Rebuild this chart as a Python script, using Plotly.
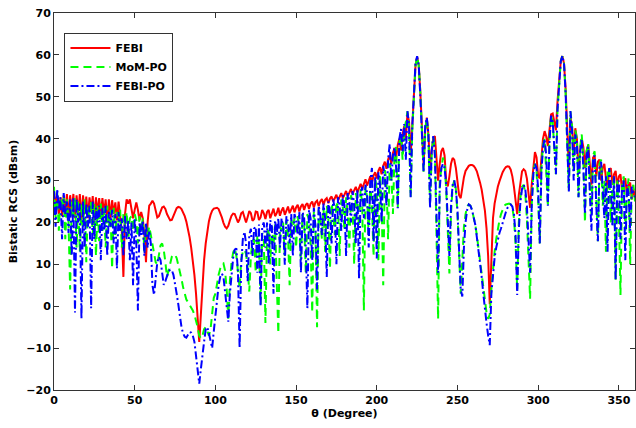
import plotly.graph_objects as go

# bistatic angle, 1 degree steps
theta = list(range(0, 361))

febi = [
    27.4, 24, 26.5, 22, 26, 21.5, 26.5, 22, 26.8, 21,
    26.5, 22.5, 26.8, 21, 26.5, 22, 26.8, 20.5, 26.5, 22,
    26.2, 21, 26, 22.5, 26.3, 20.5, 26, 22, 25.8, 21.5,
    25.8, 22, 25.5, 20, 25.5, 21, 25.3, 22, 24.8, 20.5,
    25, 22, 18, 7, 22, 25.5, 24.5, 25.5, 23, 21,
    23, 24.8, 23, 20.5, 22.5, 21, 17, 10.5, 20, 24,
    24.5, 25.2, 24.5, 22.5, 21.2, 21.5, 22.8, 23.6, 23.8, 23.2,
    22, 21, 20.5, 20.6, 21.5, 22.6, 23.4, 23.7, 23.6, 23.2,
    22.5, 21.5, 20.2, 18.5, 16.5, 14, 11, 7.5, 3, -3,
    -8.5, -2, 5, 11, 15, 18, 20.3, 21.8, 22.8, 23.3,
    23.4, 23.5, 23.2, 22.4, 21.2, 19.9, 19, 18.6, 19.2, 20.5,
    21.6, 22.1, 22, 21, 20, 20.8, 22.2, 22.5, 21, 20,
    21.3, 22.7, 22.2, 20.4, 20.8, 22.6, 22.5, 20.6, 21.2, 23,
    22.2, 20.8, 22.5, 23, 21, 22, 23.3, 21.5, 22.2, 23.5,
    21.6, 22.8, 23.6, 21.8, 23, 23.8, 22.2, 23.3, 24, 22.4,
    23.6, 24.2, 22.6, 23.8, 24.4, 23, 24.2, 24.6, 23.2, 24.5,
    25, 23.6, 24.8, 25.2, 23.9, 25, 25.6, 24.2, 25.4, 25.8,
    24.6, 25.7, 26.2, 25, 26, 26.6, 25.3, 26.4, 27, 25.8,
    26.8, 27.5, 26.2, 27.2, 28, 26.8, 27.8, 28.5, 27.2, 28.4,
    29.2, 28, 29.5, 30.3, 28.8, 30.2, 31, 29.5, 31.2, 32,
    30.5, 32.3, 33.2, 31.5, 33.5, 34.5, 32.8, 35, 36, 34,
    36.5, 37.8, 35.5, 38.5, 40, 37.2, 41, 43, 40, 46,
    44, 36, 44, 52, 57.5, 59.5, 57.5, 51, 41, 34,
    42, 45, 41, 33, 37, 40, 40.6, 36, 30, 34,
    37, 37.8, 36, 30, 28.6, 31, 34, 35.4, 35, 33,
    29.5, 26.5, 25.8, 28.5, 30.8, 32.3, 33.1, 33.5, 33.7, 33.7,
    33.5, 33, 32.2, 31, 29.5, 27.8, 25.6, 22.8, 18.6, 12,
    0.5, 13, 21, 24.5, 26.8, 28.5, 29.8, 31, 32, 32.7,
    33.2, 33.4, 33.3, 32.6, 31, 28.5, 25, 22, 26.5, 30,
    32.2, 32.7, 32.3, 30.5, 27, 23.5, 29, 34, 36.8, 35.5,
    31, 30.5, 36, 40, 41.8, 40.5, 38.2, 42.5, 45.8, 46,
    44, 42, 49, 55, 58.5, 59.7, 58, 52, 42, 33,
    45, 43, 36, 42.5, 40, 32, 37, 40, 38, 33,
    37, 38.5, 34, 29, 35.5, 36, 31, 34.5, 35, 30,
    33, 34, 30.5, 28, 32.5, 33, 29, 31.5, 32.3, 28.5,
    31, 31.5, 27.5, 30, 30.5, 26.5, 29, 29.5, 25.5, 28, 26,
]

mom_po = [
    28.5, 21, 27, 18, 26, 23, 26.5, 16, 25.5, 20,
    4, 25, 21.5, 26, 14, 25, 13, 24.5, 19, 25.5,
    10.5, 24, 20, 25, 17, 24.5, 12, 24, 15.5, 24.5,
    18, 23.5, 14, 24, 19, 23, 9, 23.5, 17, 22.5,
    20, 23, 14, 22, 19, 22.5, 16, 21, 21.5, 18,
    22, 20.5, 15, 21.5, 18, 21, 13, 19.5, 17, 19,
    17, 14.5, 12, 10.5, 10, 12, 14.5, 15, 13.5, 10.5,
    7, 8.5, 10.5, 11.8, 12.3, 12.3, 11.5, 10, 8.3, 6.5,
    4.5, 2.8, 1.6, 1, 0.4, -0.2, -1, -2, -3.3, -5,
    -7, -7.7, -7, -5.5, -5, -6, -7, -5.5, -2, 2,
    3, 5.5, 7.5, 9, 9.9, 10.2, 8.5, 4, -3, 6,
    10.5, 12.8, 13.8, 12, 8, 4.3, 11, 13, 13.5, 12.5,
    9, 3.5, 12, 15.5, 16, 8, 17, 15, 0.5, 17.5,
    16, -4, 17, 18.5, 10, 19, 14.5, 19.5, 6, -6.5,
    19, 18, 20, 12, 20.5, 17, 5, 20.5, 19, 21,
    14, 21.5, 18, 11, 22, 20, 8, 22, 20.5, 15,
    -1.5, 22.5, 19, -5, 23, 21, 16, 23.5, 13, 24,
    21, 9, 24.5, 22, 17, 25, 23, 12, 25.5, 23.5,
    18, 26, 22, 14, 26.5, 24.5, 10, 27, 25, 19,
    28, 24, -1, 28.5, 26, 17, 29.5, 24, 12, 30.5,
    28, 11, 31.5, 25, 5, 32.5, 30, 16, 34, 31.5,
    22, 36.5, 38, 23.5, 39, 41, 35, 42, 44, 46.5,
    42, 26, 42, 52, 57.5, 59.5, 57.5, 51, 40, 32,
    42, 45, 40, 24, 36, 40.5, 37, 18, -3, 30,
    33, 35.5, 34, 28, 18, 7.8, 22, 28.5, 30, 28,
    22, 10, 3, 11, 19, 22, 23.8, 24.3, 24, 23,
    21.5, 19.5, 17, 14, 11, 7.5, 4, 1, -1.5, -3,
    -2, 4, 9, 13, 16, 18.6, 20.5, 22, 23.2, 24,
    24.3, 24.5, 24.5, 24.3, 23.5, 21, 15, 4, 20, 26,
    28.5, 29, 27, 21, 10, 1.8, 24, 32, 34, 32,
    25, 15, 33, 38.5, 40, 33, 23.8, 40, 45.5, 44,
    37, 31.5, 47, 54, 58.5, 59.7, 58, 51, 39, 27.4,
    46.5, 43, 32, 42, 40, 26, 38, 41, 35, 20,
    37, 39, 30, 22, 36, 37, 26, 15.5, 34, 35,
    24, 30, 13, 32, 33, 20, 28, 31, 6.3, 30,
    22, 2.7, 29, 31, 18, 27, 30.5, 10, 28, 29, 25,
]

febi_po = [
    27.5, 19, 28, 23, 26, 16, 27, 22, 25, 17.5,
    25.5, 12, 26, -1.5, 25.5, 20, 24.5, -3, 25, 14,
    24.5, 19, 24, -0.5, 25, 16, 23.5, 20, 24, 11,
    23.5, 18, 24, 12, 22.5, 19, 23, 15, 22, 9,
    22.5, 18, 21, 12, 21.5, 16, 20.5, 11, 20, 5,
    21, 15, -1, 20, 17, 20.5, 12, 20, 14, 18,
    15, 5, 2.7, 7, 10.5, 11.8, 11, 8, 5.1, 6,
    7.5, 8.3, 8.7, 8.6, 7.5, 5.5, 3, 0.5, -2.5, -5,
    -6.5, -7.3, -7.5, -6.8, -6.2, -6.3, -7, -8.5, -11.5, -15,
    -18.5, -15, -11, -8.5, -5.5, -5, -6.5, -8, -10, -6,
    -2, 2, 5, 7, 7.8, 7, 3.5, -1, -3.7, 3,
    8, 11.5, 13.5, 13.8, 8, -10, 10, 16, 17.8, 15,
    6, 17, 18.5, 12, 18.5, 19, 8, 19.5, -0.1, 19,
    20, 14, 20, 10, 20.5, 19, 3, 20.5, 17, 21,
    14, 21, 19, 9.9, 21.5, 20, 15, 22, 12, 22,
    20.5, 17, 22.5, 8, 22.5, 21, 14, -0.5, 23, 21,
    11, 23.5, 19, 4, 24, 22, 17, 24.5, 21, 7,
    25, 22.5, 15, 25.5, 23, 10, 26, 24, 18, 26.5,
    24, 12, 27, 25, 20, 27.5, 24, 15, 28, 6.6,
    27, 28.5, 21, 29, 27, 14, 30, 33, 15.4, 31,
    11.4, 32, 29, 20, 33.5, 31, 24, 35, 38.7, 30,
    36, 38, 33, 23.4, 40, 42.3, 37, 43.5, 35, 46.6,
    43, 26, 43, 52.5, 58, 59.7, 57.5, 50, 39, 32,
    43, 45, 41, 23.4, 37, 40.6, 36, 22, 8, 28,
    33, 34, 33, 29, 22, 12, 24, 29, 30, 28,
    23, 14, 4, 2.3, 14, 20, 23, 24.3, 24, 23,
    21.5, 19.5, 16.5, 13.5, 10.5, 7, 3, -1, -4, -7,
    -9.3, 3, 8, 11.5, 14, 16, 17.5, 18.6, 20, 21.3,
    22.5, 23.5, 24, 24.3, 23.8, 22, 17, 2.7, 18, 25,
    28, 29, 28, 24, 16, 8, 24, 31.5, 34, 33,
    28, 15, 32, 38, 40, 36, 24, 39, 45.5, 44,
    38, 31.5, 47, 54, 58.5, 59.8, 58, 51, 40, 27.4,
    46.6, 42, 30, 41, 39, 26, 37, 40, 33, 22,
    36, 38, 27, 18, 35, 36, 24, 15.5, 33, 34.5,
    28, 21, 31, 13, 33, 29, 19, 31, 6.3, 29,
    30, 16, 28.5, 30, 11, 29, 27, 18, 28.5, 27, 26,
]

assert len(febi) == len(theta), len(febi)
assert len(mom_po) == len(theta), len(mom_po)
assert len(febi_po) == len(theta), len(febi_po)

BOLD = dict(family="DejaVu Sans, Arial, sans-serif", size=12, color="black", weight="bold")
SMALL = dict(BOLD, size=11)

fig = go.Figure()
fig.add_trace(go.Scatter(x=theta, y=febi, mode="lines", name="FEBI",
                         line=dict(color="#FF0000", width=2)))
fig.add_trace(go.Scatter(x=theta, y=mom_po, mode="lines", name="MoM-PO",
                         line=dict(color="#00FF00", width=2, dash="8px,5px")))
fig.add_trace(go.Scatter(x=theta, y=febi_po, mode="lines", name="FEBI-PO",
                         line=dict(color="#0000FF", width=2, dash="8px,3px,2px,3px")))

axis_style = dict(
    showline=True, linewidth=1, linecolor="#333333", mirror="ticks",
    ticks="inside", ticklen=5, tickcolor="#333333",
    showgrid=False, zeroline=False, tickfont=SMALL, automargin=False,
)

fig.update_layout(
    width=636, height=428,
    margin=dict(l=54, r=1, t=13, b=38),
    paper_bgcolor="white", plot_bgcolor="white",
    font=BOLD,
    xaxis=dict(range=[0, 360], tickmode="array", tickvals=[0, 50, 100, 150, 200, 250, 300, 350],
               title=dict(text="θ (Degree)", font=SMALL, standoff=2), **axis_style),
    yaxis=dict(range=[-20, 70], tickmode="array", tickvals=list(range(-20, 71, 10)),
               title=dict(text="Bistatic RCS (dBsm)", font=SMALL, standoff=6), **axis_style),
    legend=dict(x=0.018, y=0.948, xanchor="left", yanchor="top",
                bgcolor="white", bordercolor="#333333", borderwidth=1,
                font=SMALL, tracegroupgap=0, itemwidth=40),
    showlegend=True,
)

# the page's default body margin would shift the figure by 8px
fig.write_html("out.html", config={"displayModeBar": False},
               post_script="document.body.style.margin='0';")
